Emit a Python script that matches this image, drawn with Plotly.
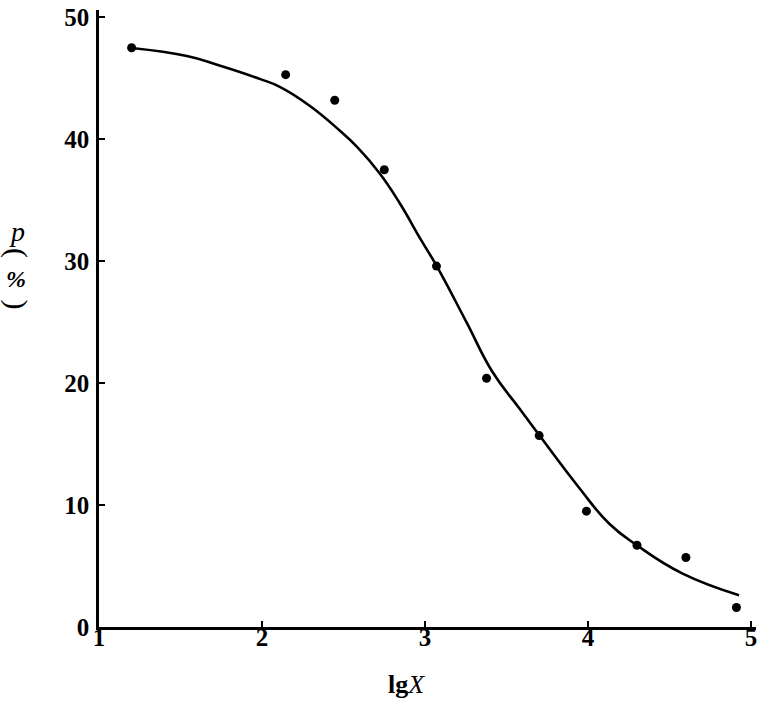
import plotly.graph_objects as go

# measured data points (lg X, p %)
lgx_points = [1.20, 2.145, 2.446, 2.75, 3.07, 3.377, 3.70, 3.99, 4.30, 4.60, 4.91]
p_points = [47.5, 45.3, 43.2, 37.5, 29.6, 20.4, 15.7, 9.5, 6.7, 5.7, 1.6]

# fitted curve
lgx_curve = [1.202, 1.539, 1.729, 1.986, 2.109, 2.292, 2.476, 2.580, 2.721, 2.844,
             2.978, 3.070, 3.254, 3.413, 3.579, 3.701, 3.946, 4.130, 4.302, 4.577, 4.926]
p_curve = [47.48, 46.82, 46.09, 44.95, 44.30, 42.75, 40.72, 39.41, 37.21, 34.77,
           31.68, 29.64, 25.0, 20.93, 17.92, 15.72, 11.40, 8.47, 6.68, 4.40, 2.61]

x_ticks = [1, 2, 3, 4, 5]
y_ticks = [0, 10, 20, 30, 40, 50]

font_fam = "Liberation Serif"

fig = go.Figure()
fig.add_trace(go.Scatter(x=lgx_curve, y=p_curve, mode="lines",
                         line=dict(color="black", width=2.6, shape="spline", smoothing=1.3),
                         hoverinfo="skip", showlegend=False))
fig.add_trace(go.Scatter(x=lgx_points, y=p_points, mode="markers",
                         marker=dict(color="black", size=9),
                         showlegend=False))

fig.update_layout(
    width=761, height=702,
    margin=dict(l=99, r=4, t=5, b=75),
    paper_bgcolor="white", plot_bgcolor="white",
    font=dict(family=font_fam, color="black"),
    xaxis=dict(range=[1, 5.03], tickvals=x_ticks, ticktext=[f"<b>{v}</b>" for v in x_ticks],
               showgrid=False, zeroline=False, showline=True, linecolor="black", linewidth=2.5,
               ticks="inside", ticklen=6, tickwidth=2, tickcolor="black",
               tickfont=dict(family=font_fam, size=25, color="black"),
               ticklabelstandoff=-14, ticklabeloverflow="allow"),
    yaxis=dict(range=[0, 50.6], tickvals=y_ticks, ticktext=[f"<b>{v}</b>" for v in y_ticks],
               showgrid=False, zeroline=False, showline=True, linecolor="black", linewidth=2.5,
               ticks="inside", ticklen=6, tickwidth=2, tickcolor="black",
               tickfont=dict(family=font_fam, size=25, color="black"),
               ticklabelstandoff=2, ticklabeloverflow="allow"),
)

fig.add_annotation(xref="paper", yref="paper", x=0.468, y=-0.066, xanchor="center", yanchor="top",
                   text="<b>lg</b><i>X</i>", showarrow=False,
                   font=dict(family=font_fam, size=26, color="black"))


def px_to_paper(px, py):
    return (px - 99) / (761 - 99 - 4), (702 - 75 - py) / (702 - 5 - 75)


# vertical y-axis label: p ( % ), parentheses turned as in vertical typesetting
for txt, (px, py), size, angle in [
    ("<i>p</i>", (17, 228), 28, 0),
    ("(", (17, 250), 30, 90),
    ("<b><i>%</i></b>", (16, 276), 24, 0),
    (")", (17, 302), 30, 90),
]:
    ax, ay = px_to_paper(px, py)
    fig.add_annotation(xref="paper", yref="paper", x=ax, y=ay, xanchor="center", yanchor="middle",
                       text=txt, textangle=angle, showarrow=False,
                       font=dict(family=font_fam, size=size, color="black"))

fig.write_html("out.html", config={"displayModeBar": False},
               post_script="document.body.style.margin='0px';")
